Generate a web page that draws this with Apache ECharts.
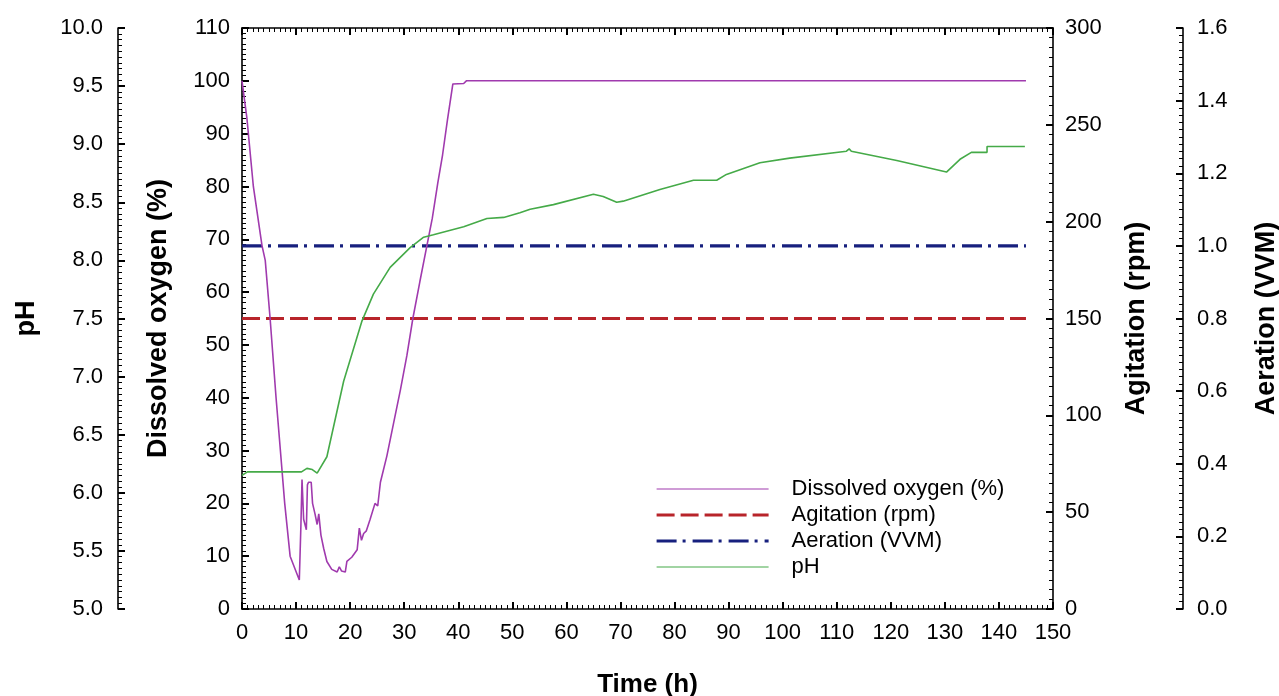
<!DOCTYPE html>
<html>
<head>
<meta charset="utf-8">
<script src="https://cdn.jsdelivr.net/npm/echarts@6/dist/echarts.min.js"></script>
<style>
html,body{margin:0;padding:0;background:#fff;}
#chart{width:1279px;height:696px;}
</style>
</head>
<body>
<div id="chart"></div>
<script>
// ---- data ----
var doTime   = [0, 0.9, 2.1, 3.7, 4.3, 5.2, 6.3, 7.1, 7.9, 8.9, 10.6, 10.9, 11.1, 11.4, 11.9, 12.1, 12.3, 12.8, 13.05, 13.5, 13.9, 14.2, 14.6, 15.1, 15.7, 16.6, 17.6, 18.0, 18.4, 19.1, 19.4, 20.3, 21.3, 21.7, 22.1, 22.5, 23.0, 23.7, 24.6, 25.1, 25.6, 26.8, 28.0, 29.3, 30.5, 31.6, 32.9, 34.2, 35.2, 36.2, 37.1, 38.0, 39.0, 41.0, 41.5, 145];
var doValues = [100, 93, 80, 68.8, 66, 55, 40, 30, 20, 10, 5.5, 16, 24.5, 17, 15, 23.5, 24, 24, 20, 18, 16, 18, 14, 11.5, 9, 7.5, 7, 8, 7.2, 7, 9, 9.8, 11.2, 15.3, 13, 14.3, 14.8, 17, 20, 19.5, 24, 29, 35, 41.5, 48, 55, 62, 68.8, 74, 80.6, 86, 92.6, 99.4, 99.5, 100, 100];

var phTime   = [0, 1, 11, 12, 13, 13.9, 15.7, 18.8, 22.2, 24.3, 27.4, 31.1, 33.6, 35.4, 41, 45.3, 48.4, 51.4, 53.3, 57.6, 65.0, 66.8, 69.3, 70.5, 77.3, 83.5, 87.8, 89.6, 95.8, 101.3, 111.8, 112.3, 112.7, 121.1, 130.3, 132.8, 134.9, 137.8, 137.8, 144.8];
var phValues = [6.15, 6.18, 6.18, 6.21, 6.2, 6.17, 6.31, 6.96, 7.48, 7.71, 7.94, 8.11, 8.2, 8.22, 8.29, 8.36, 8.37, 8.41, 8.44, 8.48, 8.57, 8.55, 8.50, 8.51, 8.61, 8.69, 8.69, 8.74, 8.84, 8.88, 8.94, 8.96, 8.94, 8.86, 8.76, 8.87, 8.93, 8.93, 8.98, 8.98];

var agitationTime   = [0, 145];
var agitationValues = [150, 150];
var aerationTime    = [0, 145];
var aerationValues  = [1.0, 1.0];

var seriesNames = ['Dissolved oxygen (%)', 'Agitation (rpm)', 'Aeration (VVM)', 'pH'];

function pairs(xs, ys){ return xs.map(function(x,i){ return [x, ys[i]]; }); }

var FONT = '"Liberation Sans", Arial, sans-serif';
var black = '#000';
var COL = {do:'#a03aae', ag:'#b8242a', ae:'#17207e', ph:'#45aa48'};

function yAxisCommon(o){
  var base = {
    type:'value',
    nameLocation:'middle',
    nameRotate:90,
    nameTextStyle:{fontFamily:FONT, fontSize:27, fontWeight:'bold', color:black},
    axisLine:{show:true, onZero:false, lineStyle:{color:black, width:1.6}},
    axisTick:{show:true, inside:true, length:7, lineStyle:{color:black, width:2}},
    minorTick:{show:true, splitNumber:10, length:4, lineStyle:{color:black, width:1}},
    splitLine:{show:false},
    minorSplitLine:{show:false},
    axisLabel:{fontFamily:FONT, fontSize:22, color:black}
  };
  for (var k in o) base[k] = o[k];
  return base;
}

var chart = echarts.init(document.getElementById('chart'), null, {renderer:'canvas'});
var option = {
  backgroundColor:'#fff',
  animation:false,
  grid:{left:242, right:226, top:28, bottom:87, containLabel:false, outerBoundsMode:'none'},
  legend:{
    orient:'vertical',
    left:650, top:473,
    itemWidth:112, itemHeight:14, itemGap:4,
    data:[
      {name:seriesNames[0], lineStyle:{width:1.2, color:COL.do}},
      {name:seriesNames[1], lineStyle:{width:3.2, color:COL.ag, type:[18,6]}},
      {name:seriesNames[2], lineStyle:{width:3.2, color:COL.ae, type:[20,6,3,7]}},
      {name:seriesNames[3], lineStyle:{width:1.2, color:COL.ph}}
    ],
    itemStyle:{opacity:0, borderWidth:0},
    textStyle:{fontFamily:FONT, fontSize:22, color:black, lineHeight:22, padding:[0,0,0,18]}
  },
  xAxis:[
    {
      type:'value', min:0, max:150, interval:10, position:'bottom',
      name:'Time (h)', nameLocation:'middle', nameGap:63,
      nameTextStyle:{fontFamily:FONT, fontSize:26, fontWeight:'bold', color:black},
      axisLine:{show:true, onZero:false, lineStyle:{color:black, width:1.6}},
      axisTick:{show:true, inside:true, length:7, lineStyle:{color:black, width:2}},
      minorTick:{show:true, splitNumber:10, length:4, lineStyle:{color:black, width:1}},
      splitLine:{show:false},
      axisLabel:{fontFamily:FONT, fontSize:22, color:black, margin:13}
    },
    {
      type:'value', min:0, max:150, interval:10, position:'top',
      axisLine:{show:true, onZero:false, lineStyle:{color:black, width:1.6}},
      axisTick:{show:true, inside:true, length:7, lineStyle:{color:black, width:2}},
      minorTick:{show:true, splitNumber:10, length:4, lineStyle:{color:black, width:1}},
      splitLine:{show:false},
      axisLabel:{show:false}
    }
  ],
  yAxis:[
    yAxisCommon({min:0, max:110, interval:10, position:'left', offset:0,
      name:'Dissolved oxygen (%)', nameGap:70,
      axisLabel:{fontFamily:FONT, fontSize:22, color:black, margin:12}}),
    yAxisCommon({min:5, max:10, interval:0.5, position:'left', offset:124,
      name:'pH', nameGap:78,
      axisLabel:{fontFamily:FONT, fontSize:22, color:black, margin:15,
        formatter:function(v){ return v.toFixed(1); }}}),
    yAxisCommon({min:0, max:300, interval:50, position:'right', offset:0,
      name:'Agitation (rpm)', nameGap:70,
      axisLabel:{fontFamily:FONT, fontSize:22, color:black, margin:12}}),
    yAxisCommon({min:0, max:1.6, interval:0.2, position:'right', offset:130,
      name:'Aeration (VVM)', nameGap:70,
      axisLabel:{fontFamily:FONT, fontSize:22, color:black, margin:14,
        formatter:function(v){ return v.toFixed(1); }}})
  ],
  series:[
    {
      name:seriesNames[0], type:'line', xAxisIndex:0, yAxisIndex:0,
      data:pairs(doTime, doValues), symbol:'none', smooth:false,
      lineStyle:{color:COL.do, width:1.6},
      itemStyle:{color:COL.do}, z:3
    },
    {
      name:seriesNames[1], type:'line', xAxisIndex:0, yAxisIndex:2,
      data:pairs(agitationTime, agitationValues), symbol:'none',
      lineStyle:{color:COL.ag, width:3.2, type:[18,6]},
      itemStyle:{color:COL.ag}, z:2
    },
    {
      name:seriesNames[2], type:'line', xAxisIndex:0, yAxisIndex:3,
      data:pairs(aerationTime, aerationValues), symbol:'none',
      lineStyle:{color:COL.ae, width:3.2, type:[20,6,3,7]},
      itemStyle:{color:COL.ae}, z:2
    },
    {
      name:seriesNames[3], type:'line', xAxisIndex:0, yAxisIndex:1,
      data:pairs(phTime, phValues), symbol:'none',
      lineStyle:{color:COL.ph, width:1.6},
      itemStyle:{color:COL.ph}, z:3
    }
  ]
};
chart.setOption(option);
</script>
</body>
</html>
